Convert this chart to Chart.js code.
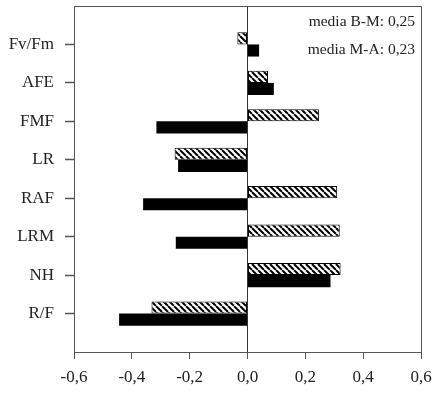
<!DOCTYPE html>
<html>
<head>
<meta charset="utf-8">
<script src="https://cdn.jsdelivr.net/npm/chart.js@4/dist/chart.umd.min.js"></script>
<style>
  html, body { margin: 0; padding: 0; background: #fff; }
  #wrap { width: 435px; height: 394px; }
</style>
</head>
<body>
<div id="wrap"><canvas id="chart"></canvas></div>
<script>
const categories = ['Fv/Fm', 'AFE', 'FMF', 'LR', 'RAF', 'LRM', 'NH', 'R/F']
const valuesBM = [-0.035, 0.071, 0.247, -0.252, 0.31, 0.319, 0.322, -0.332]
const valuesMA = [0.04, 0.091, -0.315, -0.24, -0.361, -0.248, 0.287, -0.444]
const xTicks = [-0.6, -0.4, -0.2, 0, 0.2, 0.4, 0.6]
const notes = ['media B-M: 0,25', 'media M-A: 0,23']

const FONT = "'Liberation Serif', 'Times New Roman', serif"
const TEXT = '#222'
const AXIS = '#555'

const makeHatch = () => {
  const s = 6
  const c = document.createElement('canvas')
  c.width = s
  c.height = s
  const g = c.getContext('2d')
  g.fillStyle = '#fff'
  g.fillRect(0, 0, s, s)
  g.strokeStyle = '#000'
  g.lineWidth = 2
  g.beginPath()
  for (const k of [-s, 0, s]) {
    g.moveTo(k, 0)
    g.lineTo(k + s, s)
  }
  g.stroke()
  return g.createPattern(c, 'repeat')
}

const toPoints = vals => vals.map((v, i) => ({ x: v, y: i + 1 }))

// top/right frame lines and the two "media" notes
const framePlugin = {
  id: 'frame',
  afterDraw(chart) {
    const { ctx, chartArea: a } = chart
    ctx.save()
    ctx.strokeStyle = AXIS
    ctx.lineWidth = 1
    ctx.beginPath()
    ctx.moveTo(a.left, a.top + 0.5)
    ctx.lineTo(a.right + 0.5, a.top + 0.5)
    ctx.lineTo(a.right + 0.5, a.bottom)
    ctx.stroke()
    ctx.fillStyle = TEXT
    ctx.font = '15.5px ' + FONT
    ctx.textAlign = 'right'
    ctx.textBaseline = 'alphabetic'
    notes.forEach((t, i) => ctx.fillText(t, a.right - 6, a.top + 20 + i * 28))
    ctx.restore()
  }
}

const ctx = document.getElementById('chart').getContext('2d')

new Chart(ctx, {
  type: 'bar',
  data: {
    datasets: [
      {
        label: 'B-M',
        data: toPoints(valuesBM),
        backgroundColor: makeHatch(),
        borderColor: '#000',
        borderWidth: 1,
        borderSkipped: false
      },
      {
        label: 'M-A',
        data: toPoints(valuesMA),
        backgroundColor: '#000',
        borderColor: '#000',
        borderWidth: 0
      }
    ]
  },
  options: {
    indexAxis: 'y',
    responsive: true,
    maintainAspectRatio: false,
    animation: false,
    categoryPercentage: 0.63,
    barPercentage: 1,
    layout: {
      padding: { top: 6, right: 14, left: 0, bottom: 0 }
    },
    scales: {
      x: {
        type: 'linear',
        min: -0.6,
        max: 0.6,
        afterBuildTicks: scale => {
          scale.ticks = xTicks.map(v => ({ value: v }))
        },
        afterFit: scale => {
          scale.height = 42
          scale.paddingLeft = 0
          scale.paddingRight = 0
        },
        ticks: {
          color: TEXT,
          font: { family: FONT, size: 17 },
          padding: 8,
          maxRotation: 0,
          callback: v => v.toFixed(1).replace('.', ',')
        },
        grid: {
          drawOnChartArea: true,
          color: c => (c.tick && c.tick.value === 0 ? '#333' : 'transparent'),
          tickColor: AXIS,
          tickLength: 7
        },
        border: { display: true, color: AXIS }
      },
      y: {
        type: 'linear',
        reverse: true,
        offset: false,
        min: 0,
        max: 9,
        afterBuildTicks: scale => {
          scale.ticks = categories.map((c, i) => ({ value: i + 1 }))
        },
        afterFit: scale => {
          scale.width = 74
          scale.paddingTop = 0
          scale.paddingBottom = 0
        },
        ticks: {
          color: TEXT,
          font: { family: FONT, size: 17 },
          padding: 11,
          callback: v => categories[v - 1]
        },
        grid: {
          offset: false,
          drawOnChartArea: false,
          tickColor: AXIS,
          tickWidth: 1.5,
          tickLength: 9
        },
        border: { display: true, color: AXIS }
      }
    },
    plugins: {
      legend: { display: false },
      tooltip: { enabled: false }
    }
  },
  plugins: [framePlugin]
})
</script>
</body>
</html>
